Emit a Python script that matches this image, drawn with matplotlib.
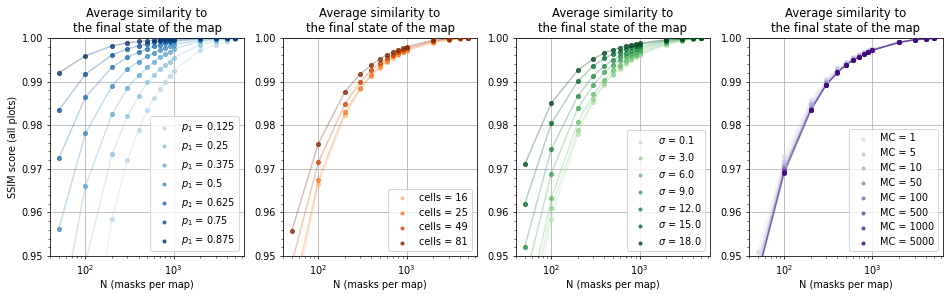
import numpy as np
import matplotlib
matplotlib.use("Agg")
import matplotlib.pyplot as plt
from matplotlib.ticker import MultipleLocator, FormatStrFormatter

N = [50, 100, 200, 300, 400, 500, 600, 700, 800, 900, 1000, 2000, 3000, 4000, 5000]

# Panel 1: p1
p1_labels = ["0.125", "0.25", "0.375", "0.5", "0.625", "0.75", "0.875"]
p1_ssim = [
    [0.860, 0.919, 0.9586, 0.9720, 0.9789, 0.9834, 0.9862, 0.9883, 0.9898, 0.9913, 0.9925, 0.9972, 0.9985, 0.9992, 0.9997],
    [0.900, 0.9485, 0.9733, 0.9821, 0.9866, 0.9898, 0.9915, 0.9929, 0.9938, 0.9946, 0.9955, 0.9985, 0.9992, 0.9996, 0.9998],
    [0.934, 0.9660, 0.9825, 0.9886, 0.9914, 0.9933, 0.9946, 0.9956, 0.9963, 0.9969, 0.9975, 0.9992, 0.9996, 0.9998, 0.9999],
    [0.9563, 0.9781, 0.9890, 0.9929, 0.9946, 0.9958, 0.9966, 0.9973, 0.9978, 0.9982, 0.9985, 0.9995, 0.9998, 0.9999, 1.0000],
    [0.9724, 0.9864, 0.9933, 0.9956, 0.9967, 0.9975, 0.9981, 0.9985, 0.9988, 0.9990, 0.9992, 0.9998, 0.9999, 1.0000, 1.0000],
    [0.9834, 0.9917, 0.9961, 0.9975, 0.9982, 0.9987, 0.9990, 0.9992, 0.9993, 0.9994, 0.9995, 0.9999, 1.0000, 1.0000, 1.0000],
    [0.9920, 0.9959, 0.9982, 0.9989, 0.9992, 0.9993, 0.9995, 0.9996, 0.9997, 0.9997, 0.9998, 1.0000, 1.0000, 1.0000, 1.0000],
]

# Panel 2: cells
cells_labels = ["16", "25", "49", "81"]
cells_ssim = [
    [0.937, 0.9665, 0.9823, 0.9883, 0.9913, 0.9931, 0.9945, 0.9954, 0.9961, 0.9967, 0.9971, 0.9988, 0.9995, 0.9998, 0.9999],
    [0.940, 0.9674, 0.9830, 0.9885, 0.9916, 0.9935, 0.9948, 0.9958, 0.9964, 0.9969, 0.9973, 0.9991, 0.9996, 0.9999, 1.0000],
    [0.9483, 0.9715, 0.9848, 0.9900, 0.9926, 0.9942, 0.9953, 0.9962, 0.9968, 0.9972, 0.9976, 0.9993, 0.9998, 0.9999, 1.0000],
    [0.9558, 0.9758, 0.9877, 0.9918, 0.9938, 0.9952, 0.9962, 0.9968, 0.9973, 0.9976, 0.9980, 0.9995, 0.9998, 1.0000, 1.0000],
]

# Panel 3: sigma
sigma_labels = ["0.1", "3.0", "6.0", "9.0", "12.0", "15.0", "18.0"]
sigma_ssim = [
    [0.925, 0.9586, 0.9779, 0.9854, 0.9893, 0.9915, 0.9930, 0.9941, 0.9949, 0.9956, 0.9961, 0.9985, 0.9993, 0.9998, 0.9999],
    [0.930, 0.9609, 0.9789, 0.9861, 0.9896, 0.9918, 0.9933, 0.9944, 0.9952, 0.9958, 0.9963, 0.9986, 0.9994, 0.9998, 0.9999],
    [0.935, 0.9632, 0.9808, 0.9871, 0.9904, 0.9926, 0.9939, 0.9949, 0.9956, 0.9962, 0.9967, 0.9988, 0.9995, 0.9998, 0.9999],
    [0.944, 0.9689, 0.9839, 0.9893, 0.9921, 0.9939, 0.9950, 0.9958, 0.9964, 0.9969, 0.9973, 0.9991, 0.9996, 0.9999, 1.0000],
    [0.9521, 0.9745, 0.9867, 0.9913, 0.9936, 0.9949, 0.9959, 0.9965, 0.9971, 0.9975, 0.9979, 0.9993, 0.9997, 0.9999, 1.0000],
    [0.9620, 0.9804, 0.9901, 0.9936, 0.9954, 0.9963, 0.9969, 0.9975, 0.9979, 0.9982, 0.9985, 0.9995, 0.9998, 1.0000, 1.0000],
    [0.9710, 0.9851, 0.9926, 0.9952, 0.9966, 0.9973, 0.9978, 0.9982, 0.9985, 0.9987, 0.9988, 0.9996, 0.9998, 1.0000, 1.0000],
]

# Panel 4: MC
mc_labels = ["1", "5", "10", "50", "100", "500", "1000", "5000"]
mc_ssim = [
    [0.9510, 0.9730, 0.9858, 0.9906, 0.9931, 0.9946, 0.9956, 0.9963, 0.9968, 0.9972, 0.9975, 0.9991, 0.9996, 0.9998, 0.9999],
    [0.9490, 0.9718, 0.9852, 0.9902, 0.9928, 0.9943, 0.9953, 0.9961, 0.9966, 0.9970, 0.9974, 0.9990, 0.9996, 0.9998, 0.9999],
    [0.9480, 0.9708, 0.9846, 0.9898, 0.9925, 0.9941, 0.9951, 0.9959, 0.9965, 0.9969, 0.9973, 0.9990, 0.9996, 0.9998, 0.9999],
    [0.9470, 0.9702, 0.9840, 0.9895, 0.9922, 0.9939, 0.9950, 0.9957, 0.9963, 0.9968, 0.9972, 0.9990, 0.9996, 0.9998, 0.9999],
    [0.9460, 0.9699, 0.9838, 0.9894, 0.9921, 0.9938, 0.9949, 0.9957, 0.9963, 0.9968, 0.9972, 0.9990, 0.9996, 0.9998, 0.9999],
    [0.9458, 0.9696, 0.9836, 0.9893, 0.9921, 0.9938, 0.9949, 0.9956, 0.9963, 0.9968, 0.9972, 0.9990, 0.9996, 0.9998, 0.9999],
    [0.9457, 0.9693, 0.9835, 0.9893, 0.9920, 0.9938, 0.9949, 0.9956, 0.9963, 0.9968, 0.9972, 0.9990, 0.9996, 0.9998, 0.9999],
    [0.9456, 0.9690, 0.9834, 0.9893, 0.9921, 0.9938, 0.9949, 0.9956, 0.9963, 0.9968, 0.9972, 0.9990, 0.9996, 0.9998, 0.9999],
]

panels = [
    (p1_labels, p1_ssim, "Blues", r"$p_1$ = {}", (0.3, 1.0)),
    (cells_labels, cells_ssim, "Oranges", "cells = {}", (0.35, 1.0)),
    (sigma_labels, sigma_ssim, "Greens", r"$\sigma$ = {}", (0.3, 1.0)),
    (mc_labels, mc_ssim, "Purples", "MC = {}", (0.25, 1.0)),
]

DPI = 70
fig, axes = plt.subplots(1, 4, figsize=(950 / DPI, 297 / DPI), dpi=DPI)
fig.subplots_adjust(left=50 / 950, right=943 / 950, bottom=41 / 297, top=1 - 38 / 297, wspace=0.2)

for i, (ax, (labels, series, cmap_name, fmt, rng)) in enumerate(zip(axes, panels)):
    cmap = plt.get_cmap(cmap_name)
    colors = cmap(np.linspace(rng[0], rng[1], len(labels)))
    for lab, vals, c in zip(labels, series, colors):
        ax.plot(N, vals, "-", color=c, alpha=0.3, lw=1.5)
        ax.scatter(N, vals, s=18, color=c, alpha=0.75, label=fmt.format(lab), zorder=3)
    ax.set_xscale("log")
    ax.set_ylim(0.95, 1.0)
    ax.yaxis.set_major_locator(MultipleLocator(0.01))
    ax.yaxis.set_minor_locator(MultipleLocator(0.002))
    ax.yaxis.set_major_formatter(FormatStrFormatter("%.2f"))
    ax.grid(True, which="major", color="#b0b0b0", lw=0.8)
    ax.set_axisbelow(True)
    ax.set_title("Average similarity to\nthe final state of the map", fontsize=12)
    ax.set_xlabel("N (masks per map)", fontsize=10)
    if i == 0:
        ax.set_ylabel("SSIM score (all plots)", fontsize=10)
    ax.legend(loc="lower right", markerscale=0.75, fontsize=10)

fig.savefig("out.png", dpi=DPI)
